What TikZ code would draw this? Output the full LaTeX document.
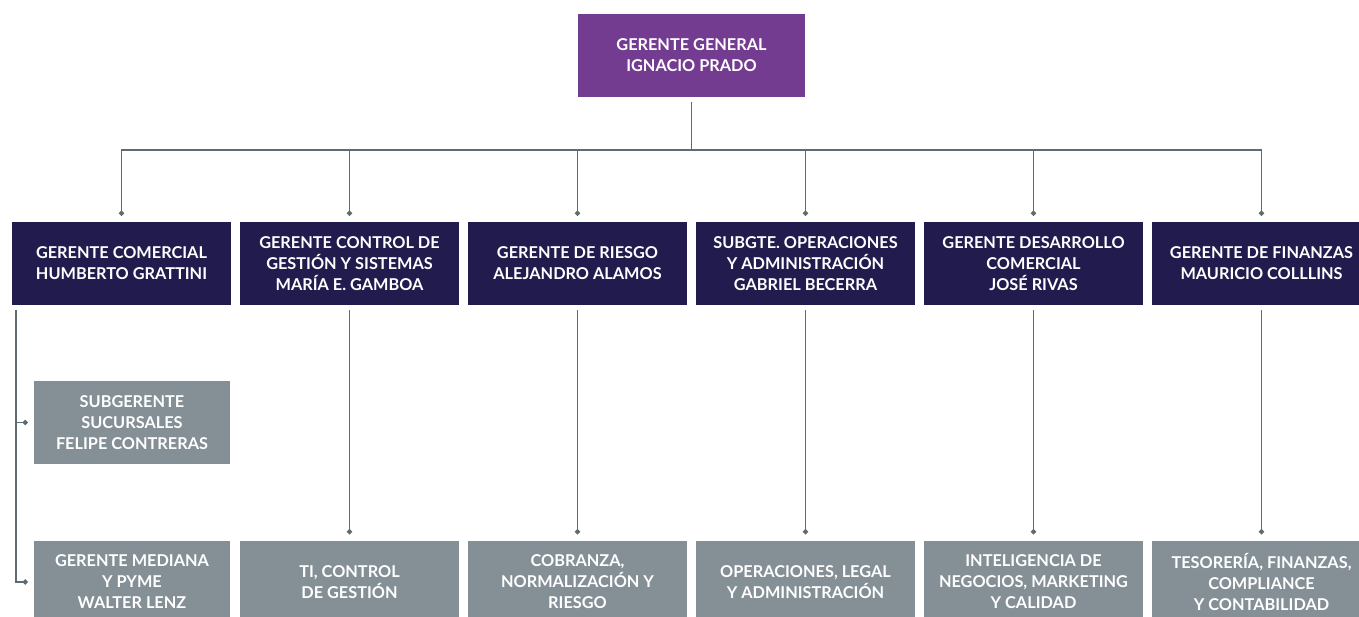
\documentclass[tikz,border=0pt]{standalone}
\usepackage{fontspec}
\setmainfont{Lato}
\usetikzlibrary{arrows.meta}

\definecolor{violeta}{HTML}{733C91}
\definecolor{marino}{HTML}{221C4E}
\definecolor{pizarra}{HTML}{858F96}
\definecolor{linea}{HTML}{5F6B73}

\begin{document}
\begin{tikzpicture}[
            x=1pt, y=1pt,
            box/.style={rectangle, text=white, align=center, inner sep=0pt,
                minimum width=219pt, minimum height=83pt,
                font=\bfseries\fontsize{16.3}{21}\selectfont},
            jefe/.style={box, fill=violeta, minimum width=227pt},
            gerencia/.style={box, fill=marino},
            area/.style={box, fill=pizarra},
            link/.style={draw=linea, line width=1.7pt, shorten <=5pt, shorten >=6pt,
                -{Circle[length=5pt]}},
            edge from parent/.style={link},
            level 1/.style={sibling distance=228pt, level distance=208pt,
                edge from parent path={(\tikzparentnode.south) -- ++(0,-53pt)
                    -| (\tikzchildnode.north)}},
            level 2/.style={level distance=318.5pt}
        ]
        \useasboundingbox (0,0) rectangle (1359,-617);

        \node[jefe] (G) at (691.5,-55.5) {GERENTE GENERAL\\IGNACIO PRADO}
        child {node[gerencia] (C) {GERENTE COMERCIAL\\HUMBERTO GRATTINI}}
        child {
                node[gerencia] (CG) {GERENTE CONTROL DE\\GESTIÓN Y SISTEMAS\\MARÍA E. GAMBOA}
                child {node[area] (TI) {TI, CONTROL\\DE GESTIÓN}}
            }
        child {
                node[gerencia] (R) {GERENTE DE RIESGO\\ALEJANDRO ALAMOS}
                child {node[area] (CN) {COBRANZA,\\NORMALIZACIÓN Y\\RIESGO}}
            }
        child {
                node[gerencia] (OP) {SUBGTE. OPERACIONES\\Y ADMINISTRACIÓN\\GABRIEL BECERRA}
                child {node[area] (OL) {OPERACIONES, LEGAL\\Y ADMINISTRACIÓN}}
            }
        child {
                node[gerencia] (DC) {GERENTE DESARROLLO\\COMERCIAL\\JOSÉ RIVAS}
                child {node[area] (IN) {INTELIGENCIA DE\\NEGOCIOS, MARKETING\\Y CALIDAD}}
            }
        child {
                node[gerencia] (F) {GERENTE DE FINANZAS\\MAURICIO COLLLINS}
                child {node[area] (TF) {TESORERÍA, FINANZAS,\\COMPLIANCE\\Y CONTABILIDAD}}
            };

        % rama comercial
        \node[area, minimum width=196pt] (SS) at (132,-422.5) {SUBGERENTE\\SUCURSALES\\FELIPE CONTRERAS};
        \node[area, minimum width=196pt] (MP) at (132,-582) {GERENTE MEDIANA\\Y PYME\\WALTER LENZ};
        \coordinate (Cb) at ([xshift=4pt]C.south west);
        \draw[link] (Cb) |- (SS.west);
        \draw[link] (Cb) |- (MP.west);
    \end{tikzpicture}
\end{document}
